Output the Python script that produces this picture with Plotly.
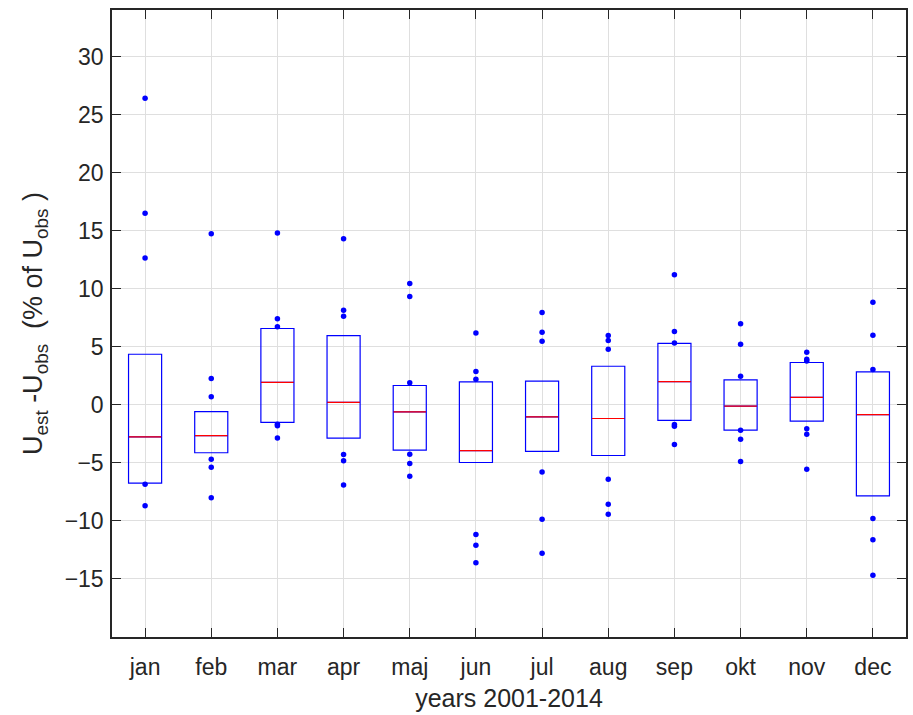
import plotly.graph_objects as go

months = ["jan", "feb", "mar", "apr", "maj", "jun", "jul", "aug", "sep", "okt", "nov", "dec"]
q1 = [-6.75, -4.13, -1.52, -2.87, -3.91, -4.97, -4.02, -4.37, -1.35, -2.19, -1.41, -7.85]
med = [-2.76, -2.65, 1.93, 0.21, -0.61, -3.94, -1.04, -1.18, 2.0, -0.12, 0.63, -0.84]
q3 = [4.35, -0.59, 6.57, 5.96, 1.66, 1.97, 2.03, 3.32, 5.28, 2.15, 3.64, 2.83]
outliers = [
    [26.4, 16.5, 12.65, -6.85, -8.7],
    [14.73, 2.27, 0.70, -4.69, -5.37, -8.0],
    [14.8, 7.4, 6.73, -1.67, -1.8, -2.87],
    [14.3, 8.15, 7.62, -4.29, -4.81, -6.9],
    [10.45, 9.33, 1.89, -4.25, -5.06, -6.15],
    [6.19, 2.87, 2.2, -11.17, -12.1, -13.6],
    [7.95, 6.25, 5.48, -5.78, -9.85, -12.78],
    [5.97, 5.54, 4.79, -6.41, -8.56, -9.42],
    [11.19, 6.31, 5.33, -1.7, -1.84, -3.42],
    [6.97, 5.22, 2.46, -2.2, -2.96, -4.88],
    [4.53, 3.93, 3.76, -2.07, -2.53, -5.55],
    [8.84, 5.99, 3.04, -9.79, -11.63, -14.68],
]
xpos = list(range(1, 13))
yticks = [-15, -10, -5, 0, 5, 10, 15, 20, 25, 30]

BLUE = "#0000ff"
RED = "#ff0000"
AX = "#262626"
GRID = "#dfdfdf"
FONT = "Liberation Sans, Arial, sans-serif"

fig = go.Figure()
fig.add_trace(go.Box(
    x=xpos, q1=q1, median=med, q3=q3, lowerfence=q1, upperfence=q3,
    width=0.5, whiskerwidth=0, line=dict(color=BLUE, width=1.2),
    fillcolor="rgba(0,0,0,0)", boxpoints=False, showlegend=False, hoverinfo="skip",
))
mx, my = [], []
for x, m in zip(xpos, med):
    mx += [x - 0.245, x + 0.245, None]
    my += [m, m, None]
fig.add_trace(go.Scatter(x=mx, y=my, mode="lines", line=dict(color=RED, width=1.2),
                         showlegend=False, hoverinfo="skip"))
px, py = [], []
for x, vals in zip(xpos, outliers):
    for v in vals:
        px.append(x)
        py.append(v)
fig.add_trace(go.Scatter(x=px, y=py, mode="markers", marker=dict(color=BLUE, size=5.5),
                         showlegend=False))

axis_common = dict(
    showline=True, linecolor=AX, linewidth=1.5, mirror="allticks",
    ticks="inside", ticklen=9, tickwidth=1.2, tickcolor=AX,
    showgrid=True, gridcolor=GRID, gridwidth=1, zeroline=False,
    tickfont=dict(family=FONT, size=23, color=AX),
)
fig.update_xaxes(range=[0.5, 12.5], tickmode="array", tickvals=xpos, ticktext=months,
                 ticklabelstandoff=9,
                 title=dict(text="years 2001-2014", font=dict(family=FONT, size=25, color=AX), standoff=10),
                 **axis_common)
fig.update_yaxes(range=[-20, 34], tickmode="array", tickvals=yticks,
                 ticklabelstandoff=2,
                 title=dict(text="U<sub>est</sub> -U<sub>obs</sub>  (% of U<sub>obs</sub> )",
                            font=dict(family=FONT, size=27, color=AX), standoff=14),
                 **axis_common)
fig.update_layout(
    width=913, height=715, margin=dict(l=112, r=5, t=10, b=78),
    plot_bgcolor="white", paper_bgcolor="white",
    font=dict(family=FONT, color=AX),
)
fig.write_html("out.html")
